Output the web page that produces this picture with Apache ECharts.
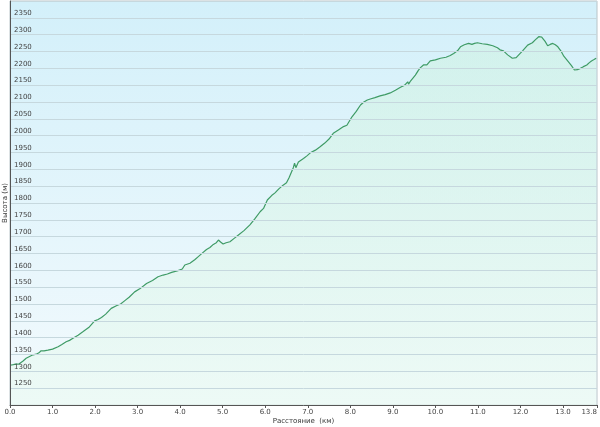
<!DOCTYPE html>
<html><head><meta charset="utf-8">
<script src="https://cdn.jsdelivr.net/npm/echarts@6/dist/echarts.min.js"></script>
<style>html,body{margin:0;padding:0;background:#fff}#c{width:600px;height:427px}</style>
</head><body><div id="c"></div>
<script>
var distanceKm = [0,0.08,0.15,0.2,0.3,0.38,0.46,0.54,0.62,0.68,0.73,0.8,0.89,1.0,1.13,1.22,1.32,1.4,1.48,1.6,1.72,1.85,1.99,2.07,2.15,2.25,2.38,2.5,2.6,2.7,2.8,2.93,3.05,3.21,3.35,3.48,3.6,3.7,3.8,3.95,4.05,4.11,4.15,4.23,4.27,4.35,4.42,4.52,4.62,4.7,4.78,4.85,4.9,4.95,5.01,5.08,5.17,5.27,5.37,5.5,5.64,5.75,5.88,5.96,6.05,6.15,6.23,6.32,6.42,6.5,6.56,6.62,6.66,6.69,6.72,6.78,6.82,6.9,6.98,7.06,7.18,7.29,7.4,7.5,7.6,7.72,7.84,7.92,8.04,8.14,8.24,8.32,8.4,8.47,8.58,8.7,8.82,8.94,9.06,9.18,9.28,9.35,9.37,9.42,9.53,9.6,9.65,9.72,9.8,9.88,10.0,10.12,10.25,10.35,10.43,10.52,10.59,10.68,10.78,10.86,10.92,10.99,11.1,11.22,11.35,11.46,11.52,11.6,11.7,11.81,11.9,11.96,12.05,12.17,12.28,12.36,12.43,12.5,12.58,12.64,12.7,12.76,12.82,12.88,12.95,13.02,13.11,13.2,13.27,13.34,13.41,13.48,13.56,13.62,13.67,13.73,13.78];
var elevationM = [1318,1320,1322,1321,1330,1339,1344,1349,1351,1355,1361,1361,1363,1366,1373,1380,1388,1392,1398,1407,1418,1430,1450,1454,1460,1470,1487,1495,1500,1510,1520,1536,1545,1561,1570,1581,1586,1589,1594,1599,1604,1616,1614,1621,1618,1632,1640,1651,1662,1668,1677,1682,1690,1684,1678,1682,1685,1695,1705,1718,1735,1752,1774,1784,1809,1822,1830,1842,1853,1860,1875,1893,1905,1918,1905,1922,1926,1932,1940,1949,1957,1967,1978,1990,2007,2017,2027,2031,2056,2072,2091,2100,2106,2109,2113,2118,2122,2127,2135,2144,2150,2160,2153,2163,2180,2194,2202,2210,2210,2222,2225,2230,2233,2238,2244,2252,2264,2270,2274,2271,2274,2276,2273,2271,2267,2261,2255,2252,2240,2230,2232,2240,2252,2269,2276,2286,2294,2293,2280,2267,2271,2274,2270,2264,2252,2236,2222,2208,2195,2196,2200,2205,2210,2217,2222,2226,2230];
var xTickLabels = ['0.0','1.0','2.0','3.0','4.0','5.0','6.0','7.0','8.0','9.0','10.0','11.0','12.0','13.0','13.8'];
var yTickLabels = ['1250','1300','1350','1400','1450','1500','1550','1600','1650','1700','1750','1800','1850','1900','1950','2000','2050','2100','2150','2200','2250','2300','2350'];

var pts = distanceKm.map(function(d,i){return [d, elevationM[i]];});
var chart = echarts.init(document.getElementById('c'), null, {renderer:'canvas'});
var font = 'DejaVu Sans';
chart.setOption({
  animation:false,
  backgroundColor:'#ffffff',
  grid:{left:10,right:3,top:1,bottom:22,containLabel:false,outerBoundsMode:'none',show:true,borderColor:'#b8c4c8',borderWidth:1,
    backgroundColor:{type:'linear',x:0,y:0,x2:0,y2:1,colorStops:[{offset:0,color:'#d3f0fa'},{offset:1,color:'#f3fafd'}]}},
  xAxis:{type:'value',min:0,max:13.8,interval:1,z:3,
    name:'Расстояние  (км)',nameLocation:'middle',nameGap:13,nameMoveOverlap:false,
    nameTextStyle:{fontFamily:font,fontSize:7,color:'#333'},
    axisLine:{show:true,lineStyle:{color:'#555',width:1}},
    axisTick:{show:true,length:3,lineStyle:{color:'#555'}},
    axisLabel:{fontFamily:font,fontSize:7,color:'#444',margin:4,showMaxLabel:true,alignMaxLabel:'right',
      formatter:function(v){var s=v.toFixed(1);return xTickLabels.indexOf(s)>=0?s:'';}},
    splitLine:{show:false}},
  yAxis:{type:'value',min:1200,max:2400,interval:50,z:3,
    name:'Высота (м)',nameLocation:'middle',nameGap:5,nameRotate:90,nameMoveOverlap:false,
    nameTextStyle:{fontFamily:font,fontSize:7,color:'#333',align:'center',verticalAlign:'middle'},
    axisLine:{show:true,lineStyle:{color:'#555',width:1}},
    axisTick:{show:false},
    axisLabel:{inside:true,fontFamily:font,fontSize:7,color:'#444',verticalAlign:'bottom',margin:4,padding:[0,0,1,0],
      formatter:function(v){var s=String(v);return yTickLabels.indexOf(s)>=0?s:'';}},
    splitLine:{show:true,lineStyle:{color:'#c6d8de',width:1}}},
  series:[{type:'line',data:pts,showSymbol:false,smooth:false,z:2,
    lineStyle:{color:'#3f9b66',width:1.2},
    areaStyle:{origin:'start',color:{type:'linear',x:0,y:0,x2:0,y2:1,colorStops:[{offset:0,color:'rgba(205,242,222,0.7)'},{offset:1,color:'rgba(234,250,242,0.9)'}]}}}]
});
</script></body></html>
